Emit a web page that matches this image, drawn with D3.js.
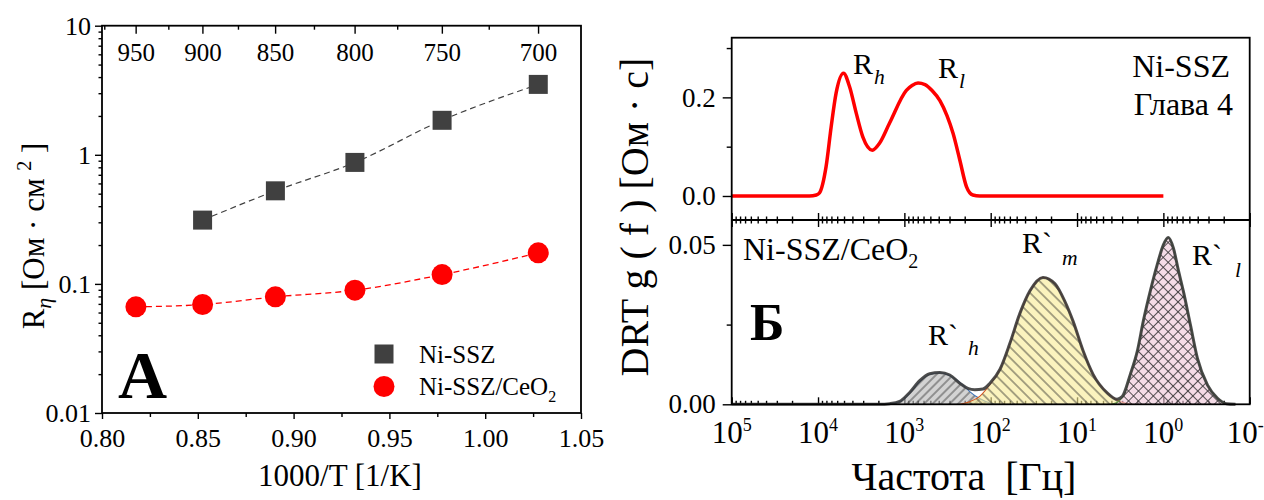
<!DOCTYPE html>
<html><head><meta charset="utf-8">
<script src="https://cdn.jsdelivr.net/npm/d3@7"></script>
<style>
body{margin:0;background:#fff}
svg{display:block}
text{font-family:"Liberation Serif","Times New Roman",serif;fill:#000}
</style>
</head><body>
<svg id="c" width="1264" height="500"></svg>
<script>
// ---------------- Panel A data ----------------
const xTicksA = [0.80, 0.85, 0.90, 0.95, 1.00, 1.05];
const xMinorA = [0.825, 0.875, 0.925, 0.975, 1.025];
const yTicksA = [0.01, 0.1, 1, 10];
const yTickLabelsA = ["0.01", "0.1", "1", "10"];
const tempMajorC = [950, 900, 850, 800, 750, 700];
const tempMinorC = [975, 925, 875, 825, 775, 725];
const invT_NiSSZ = [0.8525, 0.8905, 0.9320, 0.9775, 1.0277];
const R_NiSSZ = [0.312, 0.526, 0.873, 1.85, 3.51];
const invT_CeO2 = [0.8177, 0.8525, 0.8905, 0.9320, 0.9775, 1.0277];
const R_CeO2 = [0.0664, 0.0692, 0.0794, 0.0894, 0.118, 0.174];

// ---------------- Panel B data ----------------
const freqTicksB = [1e5, 1e4, 1e3, 1e2, 1e1, 1e0, 1e-1];
const freqTickExp = ["5", "4", "3", "2", "1", "0", "-1"];
const yTicksTop = [0.0, 0.2];
const yMinorTop = [0.1, 0.3];
const yTicksBot = [0.00, 0.05];
const yMinorBot = [0.025];
// Ni-SSZ DRT (top)
const freqTop = [1e5, 12600, 10450, 9640, 8060, 7050, 6170, 5070, 4320, 3610, 3030, 2350, 1940, 1483, 948, 815, 695, 577, 478, 386, 321, 273, 228, 191, 161, 134, 1];
const gTop = [0, 0, 0.002, 0.006, 0.06, 0.14, 0.209, 0.249, 0.222, 0.168, 0.12, 0.093, 0.107, 0.148, 0.214, 0.224, 0.229, 0.226, 0.214, 0.193, 0.163, 0.127, 0.073, 0.019, 0.002, 0, 0];
// Ni-SSZ/CeO2 peaks (bottom)
const freqH = [1940, 1483, 1133, 867, 664, 508, 389, 314, 247, 200, 175, 134, 102, 78];
const gH = [0, 0.0002, 0.0008, 0.0035, 0.0071, 0.0094, 0.0099, 0.0093, 0.0076, 0.0055, 0.0040, 0.0018, 0.0004, 0];
const freqM = [228, 175, 134, 102, 78, 59.8, 45.8, 35.1, 24.8, 18.0, 13.8, 11.1, 8.51, 6.52, 4.48, 3.17, 2.30];
const gM = [0, 0.0008, 0.0025, 0.0062, 0.011, 0.019, 0.0285, 0.0355, 0.0398, 0.0378, 0.0322, 0.026, 0.0168, 0.0094, 0.0036, 0.0009, 0];
const freqL = [3.93, 3.17, 2.77, 2.42, 2.01, 1.71, 1.42, 1.18, 1.0, 0.877, 0.766, 0.670, 0.586, 0.486, 0.403, 0.308, 0.236, 0.186];
const gL = [0, 0.0013, 0.0038, 0.0092, 0.0165, 0.026, 0.0354, 0.0437, 0.05, 0.0523, 0.049, 0.042, 0.0354, 0.0249, 0.0144, 0.006, 0.0019, 0];
const freqTot = [1e5, 1940, 1483, 1133, 867, 664, 508, 389, 298, 228, 184, 153, 123, 102, 78, 59.8, 45.8, 35.1, 24.8, 18.0, 13.8, 11.1, 8.51, 6.52, 4.48, 3.44, 3.0, 2.42, 2.01, 1.71, 1.42, 1.18, 1.0, 0.877, 0.766, 0.670, 0.586, 0.486, 0.403, 0.308, 0.236, 0.186, 0.146];
const gTot = [0, 0, 0.0002, 0.0009, 0.0037, 0.0074, 0.0096, 0.0100, 0.0092, 0.0066, 0.0050, 0.0046, 0.0048, 0.0066, 0.011, 0.0192, 0.0286, 0.0356, 0.0398, 0.0378, 0.0322, 0.026, 0.0168, 0.0094, 0.0036, 0.0016, 0.0024, 0.0093, 0.0165, 0.026, 0.0354, 0.0437, 0.05, 0.0523, 0.049, 0.042, 0.0354, 0.0249, 0.0144, 0.006, 0.0019, 0.0002, 0];

const FONT = '"Liberation Serif","Times New Roman",serif';
const svg = d3.select("#c");
const zip = (a, b) => a.map((v, i) => [v, b[i]]);

function styleAxis(g, fs) {
  g.select("path.domain").remove();
  g.selectAll("line").attr("stroke", "#000").attr("stroke-width", 1.4);
  g.selectAll("text").attr("font-family", FONT).attr("font-size", fs).attr("fill", "#000");
  g.attr("font-family", null).attr("font-size", null);
}

// =============== Panel A ===============
const xA = d3.scaleLinear().domain([0.80, 1.05]).range([102, 581]);
const yA = d3.scaleLog().domain([0.01, 10]).range([413, 25.7]);
const tPos = t => 1000 / (t + 273.15);

svg.append("g").attr("transform", "translate(0,413)")
  .call(d3.axisBottom(xA).tickValues(xTicksA).tickFormat(d3.format(".2f")).tickSize(6).tickSizeOuter(0).tickPadding(10))
  .call(g => styleAxis(g, 26));
svg.append("g").attr("transform", "translate(0,413)")
  .call(d3.axisBottom(xA).tickValues(xMinorA).tickFormat("").tickSize(4).tickSizeOuter(0))
  .call(g => styleAxis(g, 26));
const yMinorA = [];
[0.01, 0.1, 1].forEach(d => { for (let k = 2; k <= 9; k++) yMinorA.push(d * k); });
svg.append("g").attr("transform", "translate(102,0)")
  .call(d3.axisLeft(yA).tickValues(yTicksA).tickFormat((d, i) => yTickLabelsA[i]).tickSize(7).tickSizeOuter(0).tickPadding(4))
  .call(g => styleAxis(g, 26));
svg.append("g").attr("transform", "translate(102,0)")
  .call(d3.axisLeft(yA).tickValues(yMinorA).tickFormat("").tickSize(3.5).tickSizeOuter(0))
  .call(g => styleAxis(g, 26));
const xTemp = d3.scaleLinear().domain(xA.domain()).range(xA.range());
svg.append("g").attr("transform", "translate(0,25.7)")
  .call(d3.axisBottom(xTemp).tickValues(tempMajorC.map(tPos)).tickFormat((d, i) => tempMajorC[i]).tickSize(8).tickSizeOuter(0).tickPadding(10))
  .call(g => styleAxis(g, 25));
svg.append("g").attr("transform", "translate(0,25.7)")
  .call(d3.axisBottom(xTemp).tickValues(tempMinorC.map(tPos)).tickFormat("").tickSize(4).tickSizeOuter(0))
  .call(g => styleAxis(g, 25));
svg.append("rect").attr("x", xA.range()[0]).attr("y", yA.range()[1])
  .attr("width", xA.range()[1] - xA.range()[0]).attr("height", yA.range()[0] - yA.range()[1])
  .attr("fill", "none").attr("stroke", "#000").attr("stroke-width", 1.8);

const lineA = d3.line().x(d => xA(d[0])).y(d => yA(d[1])).curve(d3.curveMonotoneX);
svg.append("path").attr("d", lineA(zip(invT_NiSSZ, R_NiSSZ)))
  .attr("fill", "none").attr("stroke", "#404040").attr("stroke-width", 1.2).attr("stroke-dasharray", "6,4");
svg.append("path").attr("d", lineA(zip(invT_CeO2, R_CeO2)))
  .attr("fill", "none").attr("stroke", "#ff0000").attr("stroke-width", 1.3).attr("stroke-dasharray", "6,4");
svg.append("g").selectAll("rect").data(zip(invT_NiSSZ, R_NiSSZ)).join("rect")
  .attr("x", d => xA(d[0]) - 9.5).attr("y", d => yA(d[1]) - 9.5)
  .attr("width", 19).attr("height", 19).attr("fill", "#404040");
svg.append("g").selectAll("circle").data(zip(invT_CeO2, R_CeO2)).join("circle")
  .attr("cx", d => xA(d[0])).attr("cy", d => yA(d[1])).attr("r", 10.5).attr("fill", "#ff0000");

svg.append("rect").attr("x", 374.5).attr("y", 344.5).attr("width", 19).attr("height", 19).attr("fill", "#404040");
svg.append("circle").attr("cx", 384).attr("cy", 386.5).attr("r", 10.5).attr("fill", "#ff0000");
svg.append("text").attr("x", 419).attr("y", 363).attr("font-size", 25).text("Ni-SSZ");
const lg2 = svg.append("text").attr("x", 419).attr("y", 395).attr("font-size", 25);
lg2.append("tspan").text("Ni-SSZ/CeO");
lg2.append("tspan").attr("font-size", 16).attr("dy", 7).text("2");

svg.append("text").attr("x", 118).attr("y", 398).attr("font-size", 68).attr("font-weight", "bold").text("А");

svg.append("text").attr("x", 340).attr("y", 486).attr("text-anchor", "middle").attr("font-size", 31).text("1000/T [1/K]");
const yl = svg.append("text").attr("transform", "translate(44,236) rotate(-90)").attr("text-anchor", "middle").attr("font-size", 31);
yl.append("tspan").text("R");
yl.append("tspan").attr("font-size", 22).attr("font-style", "italic").attr("dy", 7).text("η");
yl.append("tspan").attr("dy", -7).text(" [Ом · см ");
yl.append("tspan").attr("font-size", 20).attr("dy", -13).text("2");
yl.append("tspan").attr("dy", 13).text(" ]");

// =============== Panel B ===============
const xB = d3.scaleLog().domain([1e5, 1e-1]).range([731.7, 1249.7]);
const yTop = d3.scaleLinear().domain([-0.0487, 0.321]).range([220, 37.7]);
const yBot = d3.scaleLinear().domain([0, 0.0578]).range([404.3, 220]);
const minorB = [];
[1e-1, 1, 10, 100, 1e3, 1e4].forEach(d => { for (let k = 2; k <= 9; k++) minorB.push(d * k); });

const defs = svg.append("defs");
function hatch(id, angle, sp, cross) {
  const p = defs.append("pattern").attr("id", id).attr("patternUnits", "userSpaceOnUse")
    .attr("width", sp).attr("height", sp).attr("patternTransform", `rotate(${angle})`);
  p.append("line").attr("x1", sp / 2).attr("y1", 0).attr("x2", sp / 2).attr("y2", sp)
    .attr("stroke", "#222").attr("stroke-width", 0.85);
  if (cross) p.append("line").attr("x1", 0).attr("y1", sp / 2).attr("x2", sp).attr("y2", sp / 2)
    .attr("stroke", "#222").attr("stroke-width", 0.85);
}
hatch("hH", 45, 6, false);
hatch("hM", -45, 7.5, false);
hatch("hL", 45, 7, true);

function xTicksAt(y, dir) {
  const ax = dir === "up" ? d3.axisBottom : d3.axisTop;
  svg.append("g").attr("transform", `translate(0,${y})`)
    .call(ax(xB).tickValues(freqTicksB).tickFormat("").tickSize(-7).tickSizeOuter(0))
    .call(g => styleAxis(g, 26));
  svg.append("g").attr("transform", `translate(0,${y})`)
    .call(ax(xB).tickValues(minorB).tickFormat("").tickSize(-3.5).tickSizeOuter(0))
    .call(g => styleAxis(g, 26));
}
xTicksAt(220, "up");
xTicksAt(220, "down");
xTicksAt(404.3, "up");

svg.append("g").attr("transform", "translate(731.7,0)")
  .call(d3.axisLeft(yTop).tickValues(yTicksTop).tickFormat(d3.format(".1f")).tickSize(9).tickSizeOuter(0).tickPadding(7))
  .call(g => styleAxis(g, 27));
svg.append("g").attr("transform", "translate(731.7,0)")
  .call(d3.axisLeft(yTop).tickValues(yMinorTop).tickFormat("").tickSize(5).tickSizeOuter(0))
  .call(g => styleAxis(g, 27));
svg.append("g").attr("transform", "translate(731.7,0)")
  .call(d3.axisLeft(yBot).tickValues(yTicksBot).tickFormat(d3.format(".2f")).tickSize(9).tickSizeOuter(0).tickPadding(7))
  .call(g => styleAxis(g, 27));
svg.append("g").attr("transform", "translate(731.7,0)")
  .call(d3.axisLeft(yBot).tickValues(yMinorBot).tickFormat("").tickSize(5).tickSizeOuter(0))
  .call(g => styleAxis(g, 27));

const xl = svg.append("g").selectAll("text").data(freqTicksB).join("text")
  .attr("x", d => xB(d)).attr("y", 443).attr("text-anchor", "middle").attr("font-size", 31);
xl.append("tspan").text("10");
xl.append("tspan").attr("font-size", 18).attr("dy", -12).text((d, i) => freqTickExp[i]);

const lineTop = d3.line().x(d => xB(d[0])).y(d => yTop(d[1])).curve(d3.curveMonotoneX);
svg.append("path").attr("d", lineTop(zip(freqTop, gTop)))
  .attr("fill", "none").attr("stroke", "#ff0000").attr("stroke-width", 3.5).attr("stroke-linejoin", "round");

const areaB = d3.area().x(d => xB(d[0])).y0(yBot(0)).y1(d => yBot(d[1])).curve(d3.curveMonotoneX);
const lineB = d3.line().x(d => xB(d[0])).y(d => yBot(d[1])).curve(d3.curveMonotoneX);
const peaks = [
  { f: freqH, g: gH, fill: "#b8b8b8", pat: "hH", stroke: "#3f74b8" },
  { f: freqM, g: gM, fill: "#f8ec96", pat: "hM", stroke: "#d4541c" },
  { f: freqL, g: gL, fill: "#efc6d8", pat: "hL", stroke: "#5a9640" }
];
peaks.forEach(p => {
  const data = zip(p.f, p.g);
  svg.append("path").attr("d", areaB(data)).attr("fill", p.fill).attr("fill-opacity", 0.62);
  svg.append("path").attr("d", areaB(data)).attr("fill", `url(#${p.pat})`).attr("opacity", 0.9);
  svg.append("path").attr("d", lineB(data)).attr("fill", "none").attr("stroke", p.stroke).attr("stroke-width", 1.1);
});
svg.append("path").attr("d", lineB(zip(freqTot, gTot)))
  .attr("fill", "none").attr("stroke", "#3a3a3a").attr("stroke-width", 3).attr("stroke-opacity", 0.9).attr("stroke-linejoin", "round");

svg.append("rect").attr("x", 731.7).attr("y", 37.7).attr("width", 1249.7 - 731.7).attr("height", 404.3 - 37.7)
  .attr("fill", "none").attr("stroke", "#000").attr("stroke-width", 1.8);
svg.append("line").attr("x1", 731.7).attr("x2", 1249.7).attr("y1", 220).attr("y2", 220)
  .attr("stroke", "#000").attr("stroke-width", 1.8);

function peakLabel(x, y, prime, sub, subDx, subDy, fs) {
  const t = svg.append("text").attr("x", x).attr("y", y).attr("font-size", fs);
  t.append("tspan").text(prime ? "R`" : "R");
  t.append("tspan").attr("font-style", "italic").attr("font-size", fs * 0.72).attr("dx", subDx).attr("dy", subDy).text(sub);
}
peakLabel(853, 74, false, "h", 1, 10, 30);
peakLabel(938, 78, false, "l", 1, 10, 30);
peakLabel(928, 345, true, "h", 10, 10, 30);
peakLabel(1022, 253, true, "m", 10, 12, 30);
peakLabel(1192, 265, true, "l", 13, 12, 30);

svg.append("text").attr("x", 1230).attr("y", 77).attr("text-anchor", "end").attr("font-size", 32).text("Ni-SSZ");
svg.append("text").attr("x", 1233).attr("y", 115).attr("text-anchor", "end").attr("font-size", 32).text("Глава 4");
const nc = svg.append("text").attr("x", 743).attr("y", 260).attr("font-size", 32);
nc.append("tspan").text("Ni-SSZ/CeO");
nc.append("tspan").attr("font-size", 20).attr("dy", 8).text("2");
svg.append("text").attr("x", 750).attr("y", 340).attr("font-size", 52).attr("font-weight", "bold").text("Б");

svg.append("text").attr("x", 964).attr("y", 490).attr("text-anchor", "middle").attr("font-size", 40)
  .attr("font-family", FONT).text("Частота\u00A0 [Гц]");
svg.append("text").attr("transform", "translate(648,217) rotate(-90)").attr("text-anchor", "middle")
  .attr("font-size", 40).attr("font-family", FONT).text("DRT g ( f ) [Ом · с]");
</script>
</body></html>
